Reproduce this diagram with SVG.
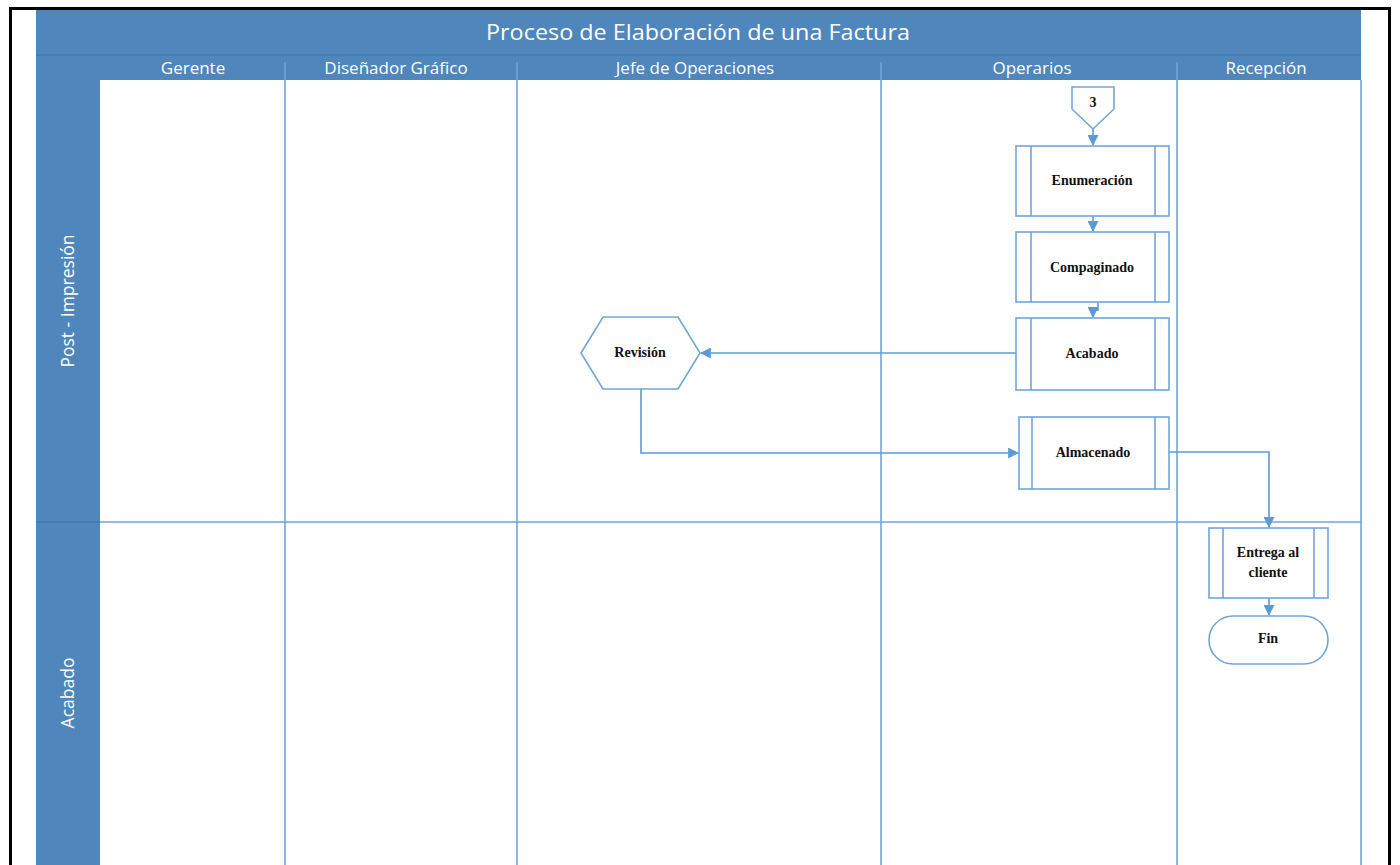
<svg xmlns="http://www.w3.org/2000/svg" width="1400" height="865" viewBox="0 0 1400 865">
  <defs>
    <style>
      .band { fill: #4f86bb; }
      .sep { stroke: #3f72a3; stroke-width: 1.2; }
      .hdr { font-family: "Open Sans", "Liberation Sans", sans-serif; fill: #ffffff; text-anchor: middle; }
      .lane { stroke: #6ea6dc; stroke-width: 1.6; fill: none; }
      .shape { fill: #ffffff; stroke: #6ea6dc; stroke-width: 1.6; }
      .inner { stroke: #6ea6dc; stroke-width: 1.6; }
      .lbl { font-family: "Liberation Serif", "Times New Roman", serif; font-weight: bold; font-size: 14px; fill: #111111; text-anchor: middle; }
      .conn { stroke: #5b9bd5; stroke-width: 1.6; fill: none; marker-end: url(#arr); }
    </style>
    <marker id="arr" viewBox="0 0 10 10" refX="9" refY="5" markerWidth="11" markerHeight="11" markerUnits="userSpaceOnUse" orient="auto">
      <path d="M0,0 L10,5 L0,10 Z" fill="#5b9bd5"/>
    </marker>
  </defs>

  <rect x="0" y="0" width="1400" height="865" fill="#ffffff"/>

  <!-- page frame -->
  <g id="frame">
    <line x1="10.5" y1="8.5" x2="10.5" y2="865" stroke="#000" stroke-width="3"/>
    <line x1="9" y1="8.5" x2="1391" y2="8.5" stroke="#000" stroke-width="3"/>
    <line x1="1389.5" y1="7" x2="1389.5" y2="865" stroke="#000" stroke-width="3"/>
  </g>

  <!-- pool header and lane headers -->
  <g id="pool-header">
    <rect class="band" x="36" y="10" width="1325" height="70"/>
    <line class="sep" x1="36" y1="55" x2="1361" y2="55"/>
    <text class="hdr" x="698" y="40" font-size="22" textLength="424" lengthAdjust="spacingAndGlyphs">Proceso de Elaboración de una Factura</text>
    <text class="hdr" x="193" y="74" font-size="17">Gerente</text>
    <text class="hdr" x="396" y="74" font-size="17">Diseñador Gráfico</text>
    <text class="hdr" x="695" y="74" font-size="17">Jefe de Operaciones</text>
    <text class="hdr" x="1032" y="74" font-size="17">Operarios</text>
    <text class="hdr" x="1266" y="74" font-size="17">Recepción</text>
  </g>

  <g id="phase-labels">
    <rect class="band" x="36" y="80" width="64" height="785"/>
    <line class="sep" x1="36" y1="522" x2="100" y2="522"/>
    <text class="hdr" font-size="17.5" transform="translate(74,301) rotate(-90)">Post - Impresión</text>
    <text class="hdr" font-size="17.5" transform="translate(74,693) rotate(-90)">Acabado</text>
  </g>

  <!-- lane dividers -->
  <g id="lanes">
    <line class="lane" x1="285" y1="62" x2="285" y2="865"/>
    <line class="lane" x1="517" y1="62" x2="517" y2="865"/>
    <line class="lane" x1="881" y1="62" x2="881" y2="865"/>
    <line class="lane" x1="1177" y1="62" x2="1177" y2="865"/>
    <line class="lane" x1="1361" y1="80" x2="1361" y2="865"/>
    <line class="lane" x1="100" y1="522" x2="1361" y2="522"/>
  </g>

  <!-- connectors -->
  <g id="connectors">
    <path class="conn" d="M1093,129 V145"/>
    <path class="conn" d="M1093,216 V231"/>
    <path class="conn" d="M1098,302 V310 H1093 V317"/>
    <path class="conn" d="M1016,353 H701"/>
    <path class="conn" d="M641,389 V453 H1018"/>
    <path class="conn" d="M1169,452 H1269 V527"/>
    <path class="conn" d="M1269,598 V615"/>
  </g>

  <g id="node-3">
    <path class="shape" d="M1072,87 H1114 V109 L1093,129 L1072,109 Z"/>
    <text class="lbl" x="1093" y="107">3</text>
  </g>

  <g id="node-enumeracion">
    <rect class="shape" x="1016" y="146" width="153" height="70"/>
    <line class="inner" x1="1031" y1="146" x2="1031" y2="216"/>
    <line class="inner" x1="1155" y1="146" x2="1155" y2="216"/>
    <text class="lbl" x="1092" y="185">Enumeración</text>
  </g>

  <g id="node-compaginado">
    <rect class="shape" x="1016" y="232" width="153" height="70"/>
    <line class="inner" x1="1031" y1="232" x2="1031" y2="302"/>
    <line class="inner" x1="1155" y1="232" x2="1155" y2="302"/>
    <text class="lbl" x="1092" y="272">Compaginado</text>
  </g>

  <g id="node-acabado">
    <rect class="shape" x="1016" y="318" width="153" height="72"/>
    <line class="inner" x1="1031" y1="318" x2="1031" y2="390"/>
    <line class="inner" x1="1155" y1="318" x2="1155" y2="390"/>
    <text class="lbl" x="1092" y="358">Acabado</text>
  </g>

  <g id="node-revision">
    <path class="shape" d="M581,353 L603,317 H678 L700,353 L678,389 H603 Z"/>
    <text class="lbl" x="640" y="357">Revisión</text>
  </g>

  <g id="node-almacenado">
    <rect class="shape" x="1019" y="417" width="150" height="72"/>
    <line class="inner" x1="1032" y1="417" x2="1032" y2="489"/>
    <line class="inner" x1="1155" y1="417" x2="1155" y2="489"/>
    <text class="lbl" x="1093" y="457">Almacenado</text>
  </g>

  <g id="node-entrega">
    <rect class="shape" x="1209" y="528" width="119" height="70"/>
    <line class="inner" x1="1223" y1="528" x2="1223" y2="598"/>
    <line class="inner" x1="1314" y1="528" x2="1314" y2="598"/>
    <text class="lbl" x="1268" y="557">Entrega al</text>
    <text class="lbl" x="1268" y="577">cliente</text>
  </g>

  <g id="node-fin">
    <rect class="shape" x="1209" y="616" width="119" height="48" rx="24" ry="24"/>
    <text class="lbl" x="1268" y="643">Fin</text>
  </g>
</svg>
